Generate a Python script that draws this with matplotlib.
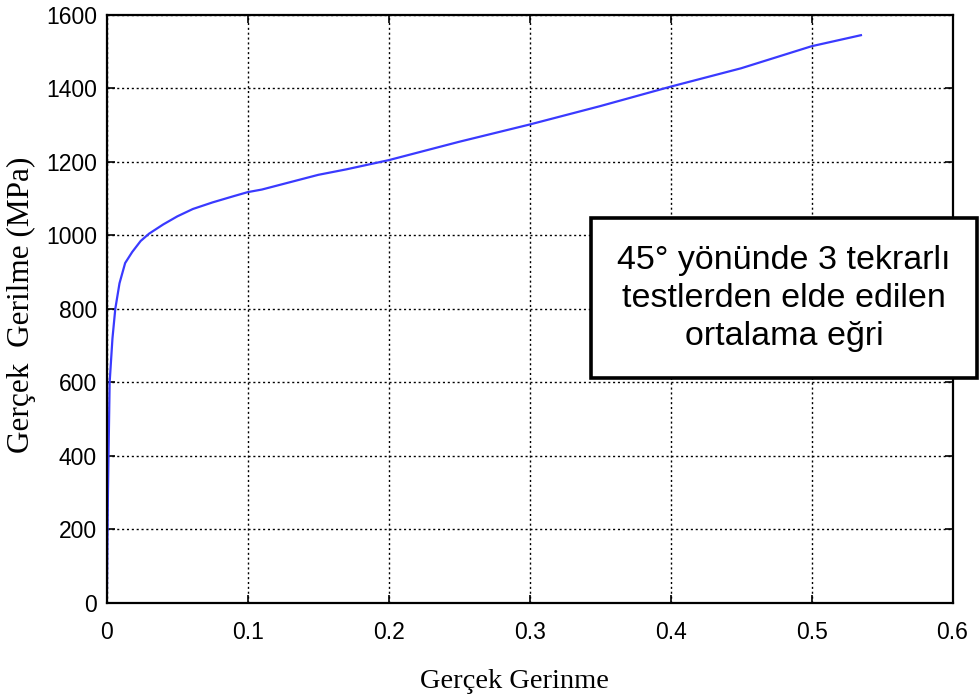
import matplotlib.pyplot as plt
from matplotlib.patches import Rectangle

# averaged true stress-strain curve
strain = [0.0, 0.0008, 0.002, 0.004, 0.006, 0.009, 0.013, 0.018, 0.024, 0.03, 0.04,
          0.05, 0.061, 0.075, 0.09, 0.1, 0.11, 0.13, 0.15, 0.17, 0.2, 0.25,
          0.3, 0.35, 0.4, 0.45, 0.5, 0.535]
stress = [0, 300, 600, 720, 800, 870, 925, 955, 985, 1005, 1030,
          1052, 1072, 1090, 1107, 1118, 1125, 1145, 1165, 1180, 1205, 1255,
          1302, 1352, 1405, 1455, 1515, 1545]

xticks = [0, 0.1, 0.2, 0.3, 0.4, 0.5, 0.6]
xticklabels = ["0", "0.1", "0.2", "0.3", "0.4", "0.5", "0.6"]
yticks = [0, 200, 400, 600, 800, 1000, 1200, 1400, 1600]

note = "45° yönünde 3 tekrarlı\ntestlerden elde edilen\nortalama eğri"

fig = plt.figure(figsize=(9.8, 7), dpi=100)
ax = fig.add_axes([0.109, 0.1386, 0.863, 0.84])

ax.plot(strain, stress, color="#3a3aff", linewidth=1.6)

ax.set_xlim(0, 0.6)
ax.set_ylim(0, 1600)
ax.set_xticks(xticks)
ax.set_xticklabels(xticklabels)
ax.set_yticks(yticks)
ax.grid(True, color="black", linestyle=(0, (1.5, 2)), linewidth=1.0)
ax.tick_params(direction="in", top=True, right=True, length=6, width=1.2,
               labelsize=16.5)
ax.tick_params(axis="x", pad=13)
ax.tick_params(axis="y", pad=7)
for lab in ax.get_xticklabels() + ax.get_yticklabels():
    lab.set_fontfamily("Liberation Sans")
for s in ax.spines.values():
    s.set_linewidth(1.6)

# axis labels placed in figure coords
fig.text(0.525, 0.026, "Gerçek Gerinme", ha="center", va="center",
         family="Liberation Serif", fontsize=20.5)
fig.text(0.022, 0.565, "Gerçek  Gerilme (MPa)", ha="center", va="center",
         rotation=90, family="Liberation Serif", fontsize=22.5)

# annotation box (MATLAB-style text box, partly outside the axes)
fig.add_artist(Rectangle((0.603, 0.46), 0.394, 0.229, transform=fig.transFigure,
                         facecolor="white", edgecolor="black", linewidth=2.6,
                         zorder=5))
fig.text(0.8, 0.574, note, ha="center", va="center", family="Liberation Sans",
         fontsize=24.5, linespacing=1.3, zorder=6)

fig.savefig("out.png", dpi=100)
